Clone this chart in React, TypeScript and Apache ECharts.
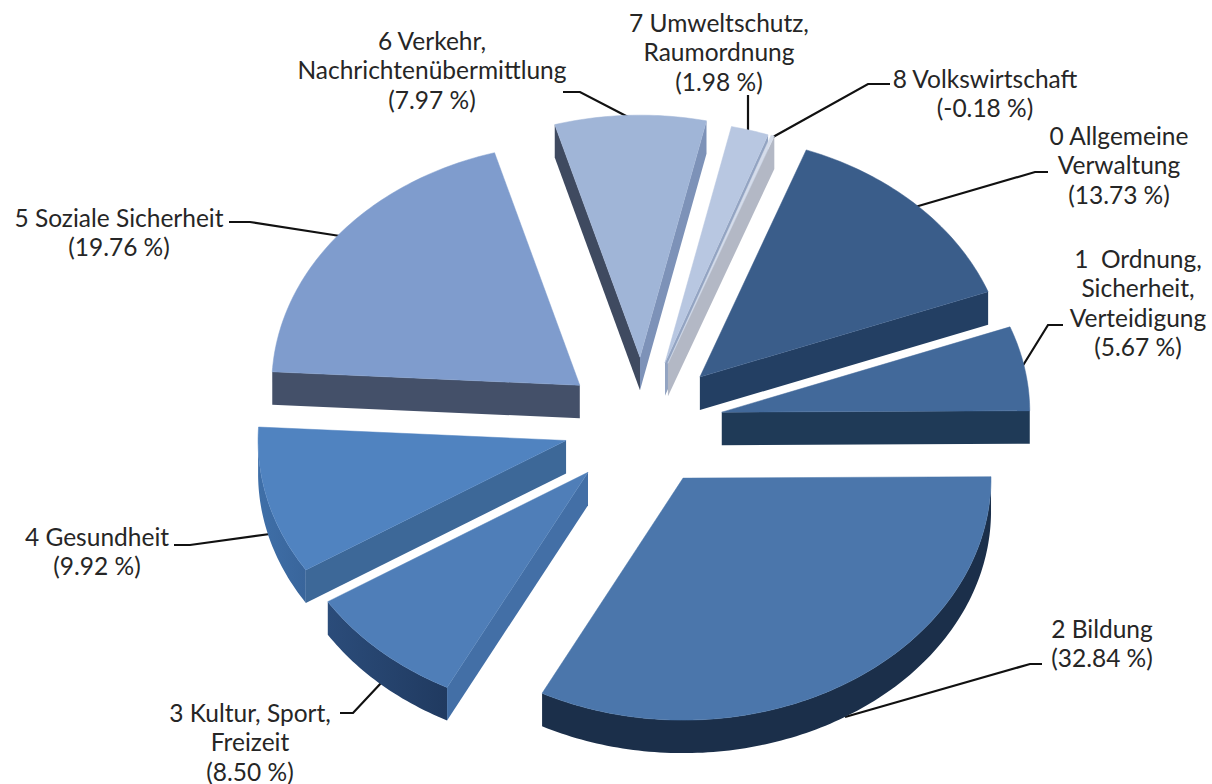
import React, { useEffect, useRef } from "react";
import * as echarts from "echarts";

const categories = [
  "0 Allgemeine Verwaltung",
  "1 Ordnung, Sicherheit, Verteidigung",
  "2 Bildung",
  "3 Kultur, Sport, Freizeit",
  "4 Gesundheit",
  "5 Soziale Sicherheit",
  "6 Verkehr, Nachrichtenübermittlung",
  "7 Umweltschutz, Raumordnung",
  "8 Volkswirtschaft",
];
const percentages = [13.73, 5.67, 32.84, 8.5, 9.92, 19.76, 7.97, 1.98, -0.18];

const labelLines = [
  ["0 Allgemeine", "Verwaltung", "(13.73 %)"],
  ["1  Ordnung,", "Sicherheit,", "Verteidigung", "(5.67 %)"],
  ["2 Bildung", "(32.84 %)"],
  ["3 Kultur, Sport,", "Freizeit", "(8.50 %)"],
  ["4 Gesundheit", "(9.92 %)"],
  ["5 Soziale Sicherheit", "(19.76 %)"],
  ["6 Verkehr,", "Nachrichtenübermittlung", "(7.97 %)"],
  ["7 Umweltschutz,", "Raumordnung", "(1.98 %)"],
  ["8 Volkswirtschaft", "(-0.18 %)"],
];

// layout of the label blocks: centre x and first line's middle y
const labelPlace = [
  [1119, 135], [1138, 258], [1102, 628], [250, 712], [97, 536],
  [119, 217], [432, 40], [719, 22], [985, 78],
];
const leaderPaths = [
  [[1048, 172], [1035, 172], [915, 207]],
  [[1063, 325], [1048, 325], [1022, 367]],
  [[1042, 664], [1030, 664], [845, 717]],
  [[340, 713], [353, 713], [382, 682]],
  [[174, 545], [190, 545], [270, 534]],
  [[229, 222], [250, 222], [340, 236]],
  [[563, 92], [580, 92], [630, 118]],
  [[748, 95], [748, 130]],
  [[890, 84], [868, 84], [773, 137]],
];

const CX = 640, CY = 421, RX = 308, RY = 242, DEPTH = 33, START = 20.2;
const explodeX = [0.276, 0.27, 0.267, 0.25, 0.248, 0.25, 0, 0.294, 0.267];
const explodeY = [0.256, 0.2, 0.277, 0.287, 0.32, 0.237, 0.264, 0.25, 0.254];

const topColor = ["#3a5d8a", "#42699a", "#4b76ab", "#4f7eb8", "#5083c0", "#7f9ccd", "#a0b5d7", "#b8c7e1", "#d5dcea"];
const startWall = ["#233f63", "#1f3a57", "#1b2f4a", "#436fa6", "#3d6898", "#445069", "#3f4a60", "#93a4c2", "#b3b8c5"];
const endWall = ["#233f63", "#1f3a57", "#1b2f4a", "#436fa6", "#3d6898", "#445069", "#7d92b8", "#93a4c2", "#b3b8c5"];
const arcWall = [
  ["#233f63", "#233f63"], ["#1f3a57", "#1f3a57"], ["#1b2f4a", "#1b2f4a"],
  ["#2b4c7a", "#203a60"], ["#3f6fa8", "#39659b"], ["#445069", "#445069"],
  ["#3f4a60", "#3f4a60"], ["#93a4c2", "#93a4c2"], ["#b3b8c5", "#b3b8c5"],
];
const drawOrder = [6, 7, 8, 0, 5, 1, 4, 3, 2];

const total = percentages.reduce((s, v) => s + Math.abs(v), 0);
const rad = (d: number) => (d * Math.PI) / 180;
const onEllipse = (deg: number): [number, number] => [Math.sin(rad(deg)) * RX, -Math.cos(rad(deg)) * RY];

const slices = percentages.map((v, i) => {
  const before = percentages.slice(0, i).reduce((s, x) => s + Math.abs(x), 0);
  const a0 = START + (before / total) * 360;
  const a1 = a0 + (Math.abs(v) / total) * 360;
  const [mx, my] = onEllipse((a0 + a1) / 2);
  return { a0, a1, ax: CX + mx * explodeX[i], ay: CY + my * explodeY[i] };
});

function renderSlice(params: any, api: any) {
  const i = api.value(0);
  const s = slices[i];
  const arc: [number, number][] = [];
  const n = Math.max(2, Math.ceil(s.a1 - s.a0));
  for (let k = 0; k <= n; k++) {
    const [x, y] = onEllipse(s.a0 + ((s.a1 - s.a0) * k) / n);
    arc.push([s.ax + x, s.ay + y]);
  }
  const children: any[] = [];
  const poly = (points: number[][], fill: any) => ({
    type: "polygon",
    shape: { points },
    style: { fill, stroke: fill === topColor[i] ? fill : undefined, lineWidth: 0.5 },
  });
  const apex = [s.ax, s.ay];
  const down = (p: number[]) => [p[0], p[1] + DEPTH];

  // outer wall: only the part of the rim on the lower half of the ellipse
  const lowerRim = arc.filter((_, k) => {
    const a = s.a0 + ((s.a1 - s.a0) * k) / n;
    return Math.cos(rad(a)) <= 0.001;
  });
  if (lowerRim.length > 1) {
    const wall = [...lowerRim, ...lowerRim.slice().reverse().map(down)];
    children.push(
      poly(wall, new echarts.graphic.LinearGradient(0, 0, 1, 0, [
        { offset: 0, color: arcWall[i][0] },
        { offset: 1, color: arcWall[i][1] },
      ]))
    );
  }
  // radial walls, drawn when they face the viewer
  const first = arc[0];
  const last = arc[arc.length - 1];
  if (first[0] - s.ax < 0) children.push(poly([apex, first, down(first), down(apex)], startWall[i]));
  if (last[0] - s.ax > 0) children.push(poly([apex, last, down(last), down(apex)], endWall[i]));
  // top face
  children.push(poly([apex, ...arc], topColor[i]));
  return { type: "group", children };
}

export default function App() {
  const ref = useRef<HTMLDivElement>(null);
  useEffect(() => {
    document.body.style.margin = "0";
    const chart = echarts.init(ref.current!, undefined, { renderer: "svg" });
    const graphics: any[] = [];
    leaderPaths.forEach((points) => {
      graphics.push({
        type: "polyline",
        shape: { points },
        style: { stroke: "#111", lineWidth: 2.2, fill: "none" },
        z: 1,
      });
    });
    labelLines.forEach((lines, i) => {
      lines.forEach((text, k) => {
        graphics.push({
          type: "text",
          x: labelPlace[i][0],
          y: labelPlace[i][1] + k * 29.5,
          style: {
            text,
            fill: "#262626",
            font: '24.5px Lato, "Open Sans", sans-serif',
            align: "center",
            verticalAlign: "middle",
          },
          z: 20,
        });
      });
    });
    chart.setOption({
      animation: false,
      backgroundColor: "#ffffff",
      graphic: graphics,
      series: [
        {
          type: "custom",
          coordinateSystem: "none",
          silent: true,
          z: 5,
          renderItem: renderSlice,
          data: drawOrder.map((i) => ({ name: categories[i], value: [i, percentages[i]] })),
        },
      ],
    });
    return () => chart.dispose();
  }, []);
  return <div ref={ref} style={{ position: "fixed", left: 0, top: 0, width: 1212, height: 784 }} />;
}
